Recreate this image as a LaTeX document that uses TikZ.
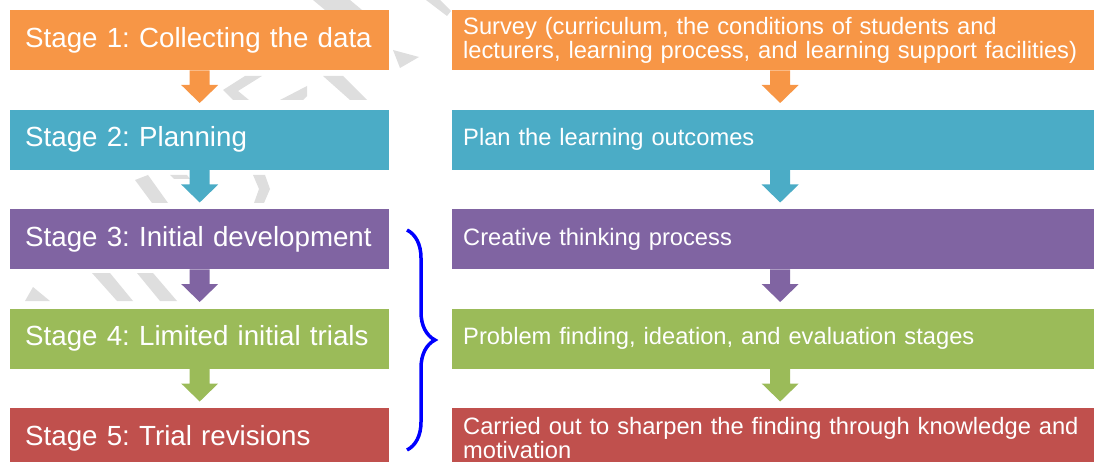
\documentclass[tikz,border=0pt]{standalone}
\usepackage{fontspec}
\setmainfont{Liberation Sans}
\usetikzlibrary{calc,decorations.pathreplacing}

\definecolor{stageorange}{HTML}{F79646}
\definecolor{stageblue}{HTML}{4BACC6}
\definecolor{stagepurple}{HTML}{8064A2}
\definecolor{stagegreen}{HTML}{9BBB59}
\definecolor{stagered}{HTML}{C0504D}

\frenchspacing

\tikzset{
  stagebox/.style={rectangle, anchor=north west, minimum width=379pt, minimum height=60pt,
    text width=349pt, inner xsep=15pt, inner ysep=0pt, align=left, text=white,
    font=\fontsize{27.7}{33}\selectfont},
  taskbox/.style={rectangle, anchor=north west, minimum width=656pt, minimum height=60pt,
    text width=634pt, inner xsep=11pt, inner ysep=0pt, align=left, text=white,
    font=\fontsize{23.7}{24}\selectfont},
  watermark/.style={fill=black!13}
}

\begin{document}
\begin{tikzpicture}[x=1pt, y=-1pt]
    \useasboundingbox (0,0) rectangle (1094,462);
    \clip (0,0) rectangle (1094,462);

    % faint marks behind the boxes
    \fill[watermark] (313,0) -- (350,0) -- (362,10) -- (325,10) -- cycle;
    \fill[watermark] (426,0) -- (440,0) -- (451,11) -- (447,16) -- cycle;
    \fill[watermark] (393,50) -- (419,57) -- (400,68) -- cycle;
    \fill[watermark] (245,76) -- (262,76) -- (238,91) -- (249,100) -- (233,100) -- (223,90) -- cycle;
    \fill[watermark] (280,100) -- (303,100) -- (307,96) -- (307,86) -- cycle;
    \fill[watermark] (323,76) -- (343,76) -- (367,100) -- (350,100) -- cycle;
    \fill[watermark] (135,180) -- (148,175) -- (168,203) -- (152,203) -- cycle;
    \fill[watermark] (170,175) -- (187,175) -- (190,179) -- (174,179) -- cycle;
    \fill[watermark] (253,175) -- (265,175) -- (270,189) -- (264,203) -- (254,203) -- (259,189) -- cycle;
    \fill[watermark] (92,273) -- (110,273) -- (133,301) -- (117,301) -- cycle;
    \fill[watermark] (137,273) -- (153,273) -- (177,301) -- (160,301) -- cycle;
    \fill[watermark] (33,287) -- (50,301) -- (25,301) -- cycle;

    % stages
    \node[stagebox, fill=stageorange] (s1) at (10,10) {Stage 1: Collecting the data};
    \node[stagebox, fill=stageblue] (s2) at (10,109.5) {Stage 2: Planning};
    \node[stagebox, fill=stagepurple] (s3) at (10,209) {Stage 3: Initial development};
    \node[stagebox, fill=stagegreen] (s4) at (10,308.5) {Stage 4: Limited initial trials};
    \node[stagebox, fill=stagered] (s5) at (10,408) {Stage 5: Trial revisions};

    % what each stage does
    \node[taskbox, fill=stageorange] (t1) at (452,10)
      {Survey (curriculum, the conditions of students and\\lecturers, learning process, and learning support facilities)};
    \node[taskbox, fill=stageblue] (t2) at (452,109.5) {Plan the learning outcomes};
    \node[taskbox, fill=stagepurple] (t3) at (452,209) {Creative thinking process};
    \node[taskbox, fill=stagegreen] (t4) at (452,308.5) {Problem finding, ideation, and evaluation stages};
    \node[taskbox, fill=stagered] (t5) at (452,408)
      {Carried out to sharpen the finding through knowledge and\\motivation};

    % block arrows
    \foreach \a/\b/\c in {s1/s2/stageorange, s2/s3/stageblue, s3/s4/stagepurple, s4/s5/stagegreen,
                          t1/t2/stageorange, t2/t3/stageblue, t3/t4/stagepurple, t4/t5/stagegreen}{
      \coordinate (tip) at ($(\b.north)+(0,6.5pt)$);
      \fill[\c] (tip) -- ++(18.5pt,18pt) -- ++(-8.5pt,0) -- ($(\a.south)+(10pt,0)$)
        -- ($(\a.south)+(-10pt,0)$) -- ($(tip)+(-10pt,18pt)$) -- ++(-8.5pt,0) -- cycle;
    }

    % brace over stages 3 to 5
    \coordinate (bracetop) at (407,230);
    \coordinate (bracebot) at (407,450);
    \draw[blue, line width=3.5pt, decorate, decoration={brace, amplitude=28pt}] (bracetop) -- (bracebot);

\end{tikzpicture}
\end{document}
